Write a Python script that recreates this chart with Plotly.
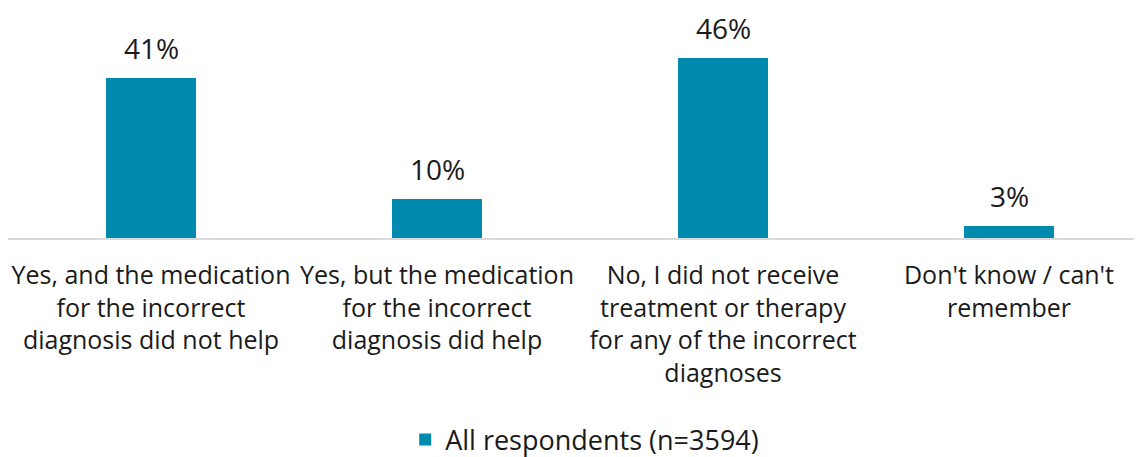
import plotly.graph_objects as go

categories = [
    "Yes, and the medication<br>for the incorrect<br>diagnosis did not help",
    "Yes, but the medication<br>for the incorrect<br>diagnosis did help",
    "No, I did not receive<br>treatment or therapy<br>for any of the incorrect<br>diagnoses",
    "Don't know / can't<br>remember",
]
values = [41, 10, 46, 3]
series_name = "All respondents (n=3594)"

FONT = "'Open Sans', Lato, sans-serif"
TEXT_COLOR = "#1a1a1a"

fig = go.Figure()

fig.add_trace(go.Bar(
    x=list(range(len(categories))),
    y=values,
    name=series_name,
    marker=dict(color="#008AAD", line=dict(width=0)),
    width=0.315,
    cliponaxis=False,
    showlegend=True,
))

# value labels above the bars
for i, v in enumerate(values):
    fig.add_annotation(
        x=i, y=v,
        text=f"{v}%",
        showarrow=False,
        yanchor="bottom",
        yshift=9,
        font=dict(size=28, family=FONT, color=TEXT_COLOR),
    )

# the page body adds an 8px offset, so the figure is laid out 8px up/left
fig.update_layout(
    width=1142,
    height=449,
    plot_bgcolor="white",
    paper_bgcolor="white",
    margin=dict(l=0, r=0, t=20, b=219, autoexpand=False),
    font=dict(family=FONT, size=25, color=TEXT_COLOR),
    bargap=0,
    legend=dict(
        orientation="h",
        x=0.505,
        xanchor="center",
        y=-0.962,
        yanchor="middle",
        font=dict(size=27, family=FONT, color=TEXT_COLOR),
        itemwidth=30,
    ),
)

fig.update_xaxes(
    tickmode="array",
    tickvals=list(range(len(categories))),
    ticktext=categories,
    range=[-0.5, 3.493],
    showline=True,
    linecolor="#D9D9D9",
    linewidth=2,
    showgrid=False,
    ticks="",
    ticklabelstandoff=14,
    automargin=False,
    tickfont=dict(size=25, family=FONT, color=TEXT_COLOR),
    fixedrange=True,
)

fig.update_yaxes(
    range=[0, 53.7],
    visible=False,
    showgrid=False,
    zeroline=False,
    fixedrange=True,
)

fig.write_html("out.html")
